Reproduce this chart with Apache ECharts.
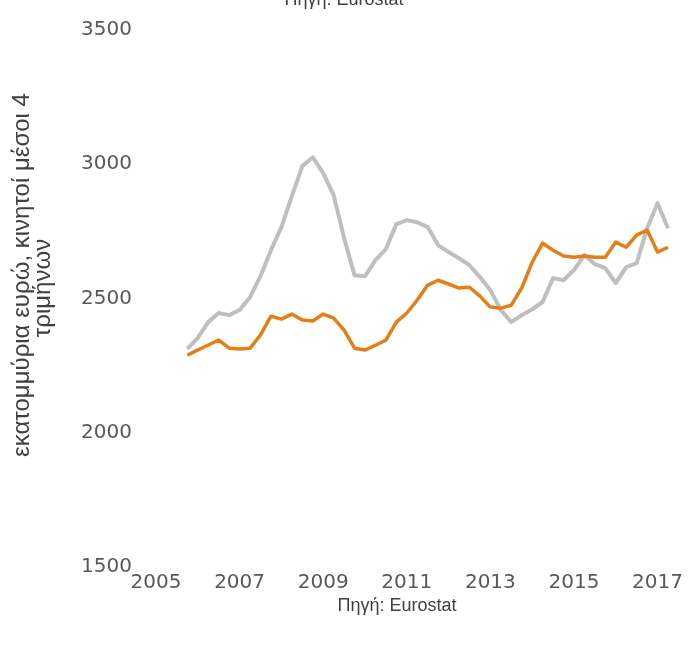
<!DOCTYPE html>
<html>
<head>
<meta charset="utf-8">
<script src="https://cdn.jsdelivr.net/npm/echarts@6/dist/echarts.min.js"></script>
<style>
  html, body { margin: 0; padding: 0; background: #ffffff; }
  #chart { width: 688px; height: 646px; }
</style>
</head>
<body>
<div id="chart"></div>
<script>
// Quarterly periods, from Q4 2005 to Q2 2017 (decimal years)
const firstPeriod = 2005.75;
const quarterStep = 0.25;

// Four-quarter moving averages, million euro
const seriesGray = [
  2312, 2353, 2412, 2446, 2438, 2457, 2505, 2583, 2680, 2766,
  2881, 2993, 3026, 2967, 2885, 2725, 2587, 2583, 2643, 2684,
  2777, 2792, 2784, 2766, 2699, 2673, 2650, 2624, 2580, 2531,
  2457, 2412, 2438, 2460, 2487, 2576, 2568, 2606, 2662, 2628,
  2613, 2557, 2617, 2632, 2762, 2855, 2762
];
const seriesOrange = [
  2289, 2308, 2327, 2345, 2315, 2312, 2315, 2364, 2434, 2423,
  2442, 2420, 2416, 2442, 2427, 2382, 2315, 2308, 2326, 2345,
  2412, 2446, 2494, 2550, 2568, 2554, 2539, 2542, 2509, 2468,
  2464, 2475, 2539, 2635, 2706, 2680, 2658, 2654, 2658, 2654,
  2654, 2710, 2691, 2736, 2755, 2673, 2691
];

const yTicks = [1500, 2000, 2500, 3000, 3500];
const xTicks = [2005, 2007, 2009, 2011, 2013, 2015, 2017];

const yTitleLines = ['εκατομμύρια ευρώ, κινητοί μέσοι 4', 'τριμήνων'];
const sourceText = 'Πηγή: Eurostat';

function toPairs(values) {
  return values.map((v, i) => [firstPeriod + i * quarterStep, v]);
}

const chart = echarts.init(document.getElementById('chart'), null, { renderer: 'canvas' });

const labelFont = 'DejaVu Sans';
const textColor = '#404040';
const tickColor = '#595959';

chart.setOption({
  animation: false,
  backgroundColor: '#ffffff',
  grid: {
    left: 156, right: 20, top: 30, bottom: 79,
    containLabel: false,
    outerBoundsMode: 'none'
  },
  xAxis: {
    type: 'value',
    min: xTicks[0],
    max: firstPeriod + (seriesGray.length - 1) * quarterStep,
    interval: 2,
    axisLine: { show: false },
    axisTick: { show: false },
    splitLine: { show: false },
    axisLabel: {
      margin: 6,
      color: tickColor,
      fontFamily: labelFont,
      fontSize: 20,
      formatter: v => (xTicks.indexOf(v) >= 0 ? String(v) : '')
    }
  },
  yAxis: {
    type: 'value',
    min: yTicks[0],
    max: yTicks[yTicks.length - 1],
    interval: 500,
    axisLine: { show: false },
    axisTick: { show: false },
    splitLine: { show: false },
    axisLabel: {
      margin: 24,
      color: tickColor,
      fontFamily: labelFont,
      fontSize: 20,
      formatter: v => String(v)
    }
  },
  graphic: [
    // rotated axis title, two lines
    {
      type: 'text',
      x: 22, y: 275,
      rotation: Math.PI / 2,
      style: {
        text: yTitleLines[0],
        fill: textColor,
        font: '24px "Liberation Sans"',
        align: 'center',
        verticalAlign: 'middle'
      }
    },
    {
      type: 'text',
      x: 43, y: 288,
      rotation: Math.PI / 2,
      style: {
        text: yTitleLines[1],
        fill: textColor,
        font: '24px "Liberation Sans"',
        align: 'center',
        verticalAlign: 'middle'
      }
    },
    // source note, top (clipped by the page edge) and below the axis
    {
      type: 'text',
      x: 344, y: 0,
      style: {
        text: sourceText,
        fill: textColor,
        font: '18px "Liberation Sans"',
        align: 'center',
        verticalAlign: 'middle'
      }
    },
    {
      type: 'text',
      x: 397, y: 606,
      style: {
        text: sourceText,
        fill: textColor,
        font: '18px "Liberation Sans"',
        align: 'center',
        verticalAlign: 'middle'
      }
    }
  ],
  series: [
    {
      type: 'line',
      data: toPairs(seriesGray),
      showSymbol: false,
      lineStyle: { color: '#bfbfbf', width: 4, join: 'round' },
      z: 2
    },
    {
      type: 'line',
      data: toPairs(seriesOrange),
      showSymbol: false,
      lineStyle: { color: '#e67e17', width: 3.5, join: 'round' },
      z: 3
    }
  ]
});
</script>
</body>
</html>
